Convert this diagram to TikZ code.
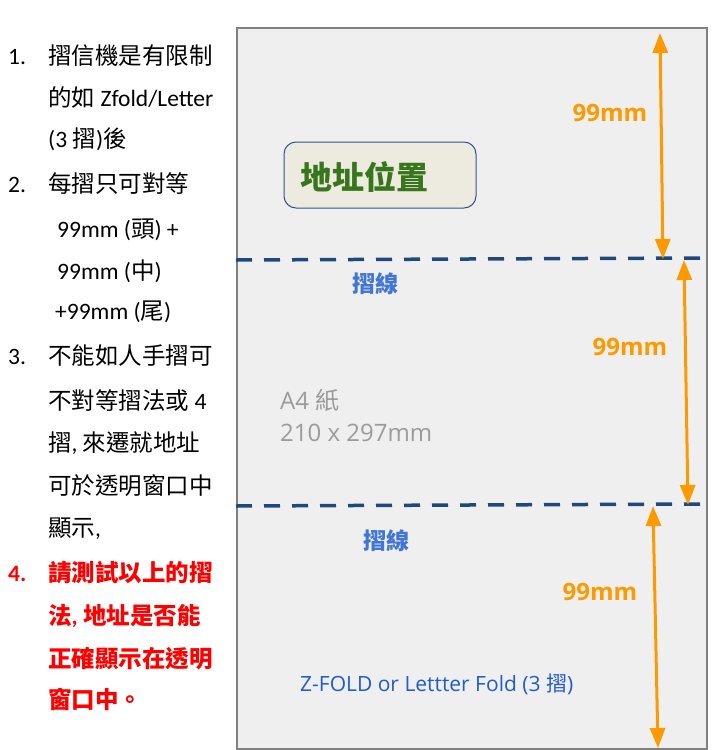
\documentclass[tikz,border=0pt]{standalone}
\usepackage{fontspec}
\setmainfont{Carlito}
\newfontfamily\cjkfont{Noto Sans CJK TC}
\newfontfamily\osfont{Open Sans}
\usetikzlibrary{arrows.meta}
\definecolor{pagefill}{RGB}{239,239,239}
\definecolor{pageborder}{RGB}{128,128,128}
\definecolor{foldblue}{RGB}{33,72,122}
\definecolor{dimorange}{RGB}{255,153,0}
\definecolor{labelblue}{RGB}{66,118,212}
\definecolor{zblue}{RGB}{32,92,204}
\definecolor{addrgreen}{RGB}{56,118,29}
\definecolor{addrfill}{RGB}{237,235,224}
\definecolor{addrborder}{RGB}{47,82,143}
\definecolor{papergray}{RGB}{155,155,155}
\newcommand\zh[1]{{\cjkfont #1}}
\tikzset{
  lefttext/.style={anchor=base west, inner sep=0pt, font=\fontsize{23.5}{28}\selectfont},
  redtext/.style={lefttext, text=red, font=\fontsize{23.5}{28}\selectfont\bfseries},
  foldline/.style={draw=foldblue, line width=3.5pt, dash pattern=on 16pt off 12pt},
  dimarrow/.style={draw=dimorange, line width=3pt,
     {Triangle[length=20pt,width=15pt]}-{Triangle[length=20pt,width=15pt]}},
  dimlabel/.style={text=dimorange, inner sep=0pt, font=\osfont\bfseries\fontsize{24}{28}\selectfont},
  foldlabel/.style={text=labelblue, inner sep=0pt, font=\cjkfont\bfseries\fontsize{23}{28}\selectfont},
  graytext/.style={text=papergray, anchor=west, inner sep=0pt, font=\osfont\fontsize{24}{28}\selectfont},
}
\begin{document}
\begin{tikzpicture}[x=1pt,y=-1pt]
\useasboundingbox (0,0) rectangle (720,750);
\fill[white] (0,0) rectangle (720,750);
% page
\node[draw=pageborder, fill=pagefill, line width=2pt, minimum width=470pt, minimum height=721pt,
      anchor=north west, inner sep=0pt] (page) at (236,27) {};
% fold lines
\coordinate (f1l) at (236,260); \coordinate (f1r) at (700,258);
\coordinate (f2l) at (236,506); \coordinate (f2r) at (700,504);
\draw[foldline] (f1l) -- (f1r);
\draw[foldline] (f2l) -- (f2r);
% arrows
\coordinate (a1t) at (660,33);  \coordinate (a1b) at (663,259);
\coordinate (a2t) at (684,260); \coordinate (a2b) at (688,505);
\coordinate (a3t) at (653,506); \coordinate (a3b) at (658,748);
\draw[dimarrow] (a1t) -- (a1b);
\draw[dimarrow] (a2t) -- (a2b);
\draw[dimarrow] (a3t) -- (a3b);
\node[dimlabel] (d1) at (610,113) {99mm};
\node[dimlabel] (d2) at (630,347) {99mm};
\node[dimlabel] (d3) at (600,592) {99mm};
% fold labels
\node[foldlabel] (fl1) at (375,284) {摺線};
\node[foldlabel] (fl2) at (386,541) {摺線};
% address box
\node[draw=addrborder, fill=addrfill, line width=1pt, rounded corners=12pt,
      minimum width=192pt, minimum height=66pt, inner sep=0pt] (addr) at (380,175) {};
\node[anchor=west, inner sep=0pt, text=addrgreen, font=\cjkfont\bfseries\fontsize{32}{36}\selectfont]
      (addrtxt) at ([xshift=17pt,yshift=-2pt]addr.west) {地址位置};
% paper text
\node[graytext] (a4) at (280,400) {A4 \zh{紙}};
\node[graytext] (size) at (280,433) {210 x 297mm};
\node[anchor=west, inner sep=0pt, text=zblue, font=\osfont\fontsize{21}{25}\selectfont] (zfold) at (300,684)
      {Z-FOLD or Lettter Fold (3 \zh{摺})};
% left text
\node[lefttext] (n1) at (8,64) {1.};
\node[lefttext] (t1) at (48,64) {\zh{摺信機是有限制}};
\node[lefttext] (t2) at (48,106) {\zh{的如} Zfold/Letter};
\node[lefttext] (t3) at (48,147) {(3 \zh{摺})\zh{後}};
\node[lefttext] (n2) at (8,192) {2.};
\node[lefttext] (t4) at (48,192) {\zh{每摺只可對等}};
\node[lefttext] (t5) at (57,237) {99mm (\zh{頭}) +};
\node[lefttext] (t6) at (57,279) {99mm (\zh{中})};
\node[lefttext] (t7) at (55,319) {+99mm (\zh{尾})};
\node[lefttext] (n3) at (8,364) {3.};
\node[lefttext] (t8) at (48,364) {\zh{不能如人手摺可}};
\node[lefttext] (t9) at (48,409) {\zh{不對等摺法或} 4};
\node[lefttext] (t10) at (48,451) {\zh{摺}, \zh{來遷就地址}};
\node[lefttext] (t11) at (48,494) {\zh{可於透明窗口中}};
\node[lefttext] (t12) at (48,536) {\zh{顯示},};
\node[redtext] (n4) at (8,581) {4.};
\node[redtext] (t13) at (48,581) {\zh{請測試以上的摺}};
\node[redtext] (t14) at (48,624) {\zh{法}, \zh{地址是否能}};
\node[redtext] (t15) at (48,667) {\zh{正確顯示在透明}};
\node[redtext] (t16) at (48,708) {\zh{窗口中。}};
\end{tikzpicture}
\end{document}
